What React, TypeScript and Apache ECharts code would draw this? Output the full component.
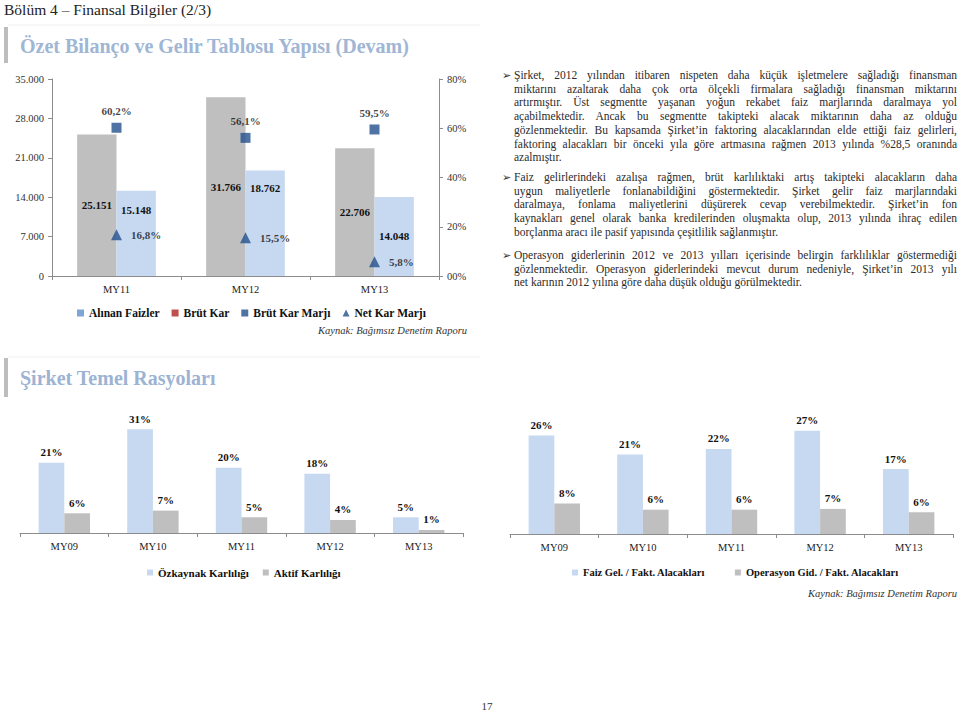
import React, { useEffect, useRef } from 'react';
import * as echarts from 'echarts';

// ---------- Data ----------
const years1 = ['MY11', 'MY12', 'MY13'];
const alinanFaizler = [25151, 31766, 22706];
const brutKar = [15148, 18762, 14048];
const brutKarMarji = [60.2, 56.1, 59.5];
const netKarMarji = [16.8, 15.5, 5.8];

const years2 = ['MY09', 'MY10', 'MY11', 'MY12', 'MY13'];
const ozkaynakKarliligi = [21.0, 31.0, 19.5, 17.7, 4.7];
const aktifKarliligi = [5.9, 6.7, 4.7, 3.9, 0.9];
const faizGelFakt = [25.9, 20.9, 22.4, 27.2, 17.1];
const operasyonGidFakt = [8.0, 6.4, 6.4, 6.6, 5.7];

const para1 = [
  'Şirket, 2012 yılından itibaren nispeten daha küçük işletmelere sağladığı finansman',
  'miktarını azaltarak daha çok orta ölçekli firmalara sağladığı finansman miktarını',
  'artırmıştır. Üst segmentte yaşanan yoğun rekabet faiz marjlarında daralmaya yol',
  'açabilmektedir. Ancak bu segmentte takipteki alacak miktarının daha az olduğu',
  'gözlenmektedir. Bu kapsamda Şirket’in faktoring alacaklarından elde ettiği faiz gelirleri,',
  'faktoring alacakları bir önceki yıla göre artmasına rağmen 2013 yılında %28,5 oranında',
  'azalmıştır.',
];
const para2 = [
  'Faiz gelirlerindeki azalışa rağmen, brüt karlılıktaki artış takipteki alacakların daha',
  'uygun maliyetlerle fonlanabildiğini göstermektedir. Şirket gelir faiz marjlarındaki',
  'daralmaya, fonlama maliyetlerini düşürerek cevap verebilmektedir. Şirket’in fon',
  'kaynakları genel olarak banka kredilerinden oluşmakta olup, 2013 yılında ihraç edilen',
  'borçlanma aracı ile pasif yapısında çeşitlilik sağlanmıştır.',
];
const para3 = [
  'Operasyon giderlerinin 2012 ve 2013 yılları içerisinde belirgin farklılıklar göstermediği',
  'gözlenmektedir. Operasyon giderlerindeki mevcut durum nedeniyle, Şirket’in 2013 yılı',
  'net karının 2012 yılına göre daha düşük olduğu görülmektedir.',
];
const paragraphs = [para1, para2, para3];

// ---------- Styling helpers ----------
const serif = '"Liberation Serif", "Times New Roman", serif';
const GRAY = '#bfbfbf';
const LBLUE = '#c6d9f1';
const DBLUE = '#23508e';
const AXIS = '#8c8c8c';
const paraTops = [69, 171, 249];
const brutKarLabelDy = [-23, -35, 0];

const fmtThousands = (v: number) => String(v).replace(/\B(?=(\d{3})+(?!\d))/g, '.');
const fmtPct1 = (v: number) => String(v).replace('.', ',') + '%';
const fmtPct0 = (v: number) => Math.round(v) + '%';

const boldLabel = { fontFamily: serif, fontWeight: 'bold' as const, fontSize: 11, color: '#111' };

function catAxis(gridIndex: number, data: string[]) {
  return {
    gridIndex,
    type: 'category',
    data,
    axisLine: { show: true, lineStyle: { color: AXIS } },
    axisTick: { show: true, length: 4, lineStyle: { color: AXIS } },
    axisLabel: { fontFamily: serif, fontSize: 10.5, color: '#222', margin: 8 },
  };
}

function smallBar(name: string, data: number[], color: string, xAxisIndex: number, yAxisIndex: number) {
  return {
    name,
    type: 'bar',
    xAxisIndex,
    yAxisIndex,
    data,
    barGap: '0%',
    barCategoryGap: '42%',
    itemStyle: { color },
    label: { show: true, position: 'top', distance: 5, formatter: (p: any) => fmtPct0(p.value), ...boldLabel },
  };
}

function buildOption() {
  return {
    animation: false,
    textStyle: { fontFamily: serif },
    grid: [
      { left: 52, top: 79, width: 387, height: 197 },
      { left: 20, top: 416, width: 443, height: 117 },
      { left: 510, top: 420, width: 443, height: 114 },
    ],
    xAxis: [catAxis(0, years1), catAxis(1, years2), catAxis(2, years2)],
    yAxis: [
      {
        gridIndex: 0, type: 'value', min: 0, max: 35000, interval: 7000, position: 'left',
        axisLine: { show: true, lineStyle: { color: AXIS } },
        axisTick: { show: true, length: 4, lineStyle: { color: AXIS } },
        splitLine: { show: false },
        axisLabel: { formatter: fmtThousands, fontFamily: serif, fontSize: 10.5, color: '#333', margin: 8 },
      },
      {
        gridIndex: 0, type: 'value', min: 0, max: 80, interval: 20, position: 'right',
        axisLine: { show: true, lineStyle: { color: AXIS } },
        axisTick: { show: true, length: 4, lineStyle: { color: AXIS } },
        splitLine: { show: false },
        axisLabel: { formatter: (v: number) => (v === 0 ? '00%' : v + '%'), fontFamily: serif, fontSize: 10.5, color: '#333', margin: 8 },
      },
      { gridIndex: 1, type: 'value', min: 0, max: 35, show: false },
      { gridIndex: 2, type: 'value', min: 0, max: 30, show: false },
    ],
    legend: [
      {
        left: 72, top: 302, itemWidth: 7, itemHeight: 7, itemGap: 12,
        textStyle: { fontFamily: serif, fontWeight: 'bold', fontSize: 11.5, color: '#111' },
        data: [
          { name: 'Alınan Faizler', icon: 'rect', itemStyle: { color: '#7fa4d6' } },
          { name: 'Brüt Kar', icon: 'rect', itemStyle: { color: '#c0504d' } },
          { name: 'Brüt Kar Marjı', icon: 'rect', itemStyle: { color: DBLUE } },
          { name: 'Net Kar Marjı', icon: 'triangle', itemStyle: { color: DBLUE } },
        ],
      },
      {
        left: 142, top: 562, itemWidth: 6, itemHeight: 6, itemGap: 14,
        textStyle: { fontFamily: serif, fontWeight: 'bold', fontSize: 11, color: '#111' },
        data: [
          { name: 'Özkaynak Karlılığı', icon: 'rect' },
          { name: 'Aktif Karlılığı', icon: 'rect' },
        ],
      },
      {
        left: 567, top: 562, itemWidth: 6, itemHeight: 6, itemGap: 30,
        textStyle: { fontFamily: serif, fontWeight: 'bold', fontSize: 10.5, color: '#111' },
        data: [
          { name: 'Faiz Gel. / Fakt. Alacakları', icon: 'rect' },
          { name: 'Operasyon Gid. / Fakt. Alacakları', icon: 'rect' },
        ],
      },
    ],
    series: [
      {
        name: 'Alınan Faizler', type: 'bar', xAxisIndex: 0, yAxisIndex: 0,
        data: alinanFaizler, barGap: '0%', barCategoryGap: '39%',
        itemStyle: { color: GRAY },
        label: { show: true, position: 'inside', formatter: (p: any) => fmtThousands(p.value), ...boldLabel },
      },
      {
        name: 'Brüt Kar', type: 'bar', xAxisIndex: 0, yAxisIndex: 0,
        data: brutKar.map((v, i) => ({ value: v, label: { offset: [0, brutKarLabelDy[i]] } })),
        barGap: '0%', barCategoryGap: '39%',
        itemStyle: { color: LBLUE },
        label: { show: true, position: 'inside', formatter: (p: any) => fmtThousands(p.value), ...boldLabel },
      },
      {
        name: 'Brüt Kar Marjı', type: 'scatter', xAxisIndex: 0, yAxisIndex: 1,
        data: brutKarMarji, symbol: 'rect', symbolSize: 10,
        itemStyle: { color: DBLUE }, z: 5,
        label: { show: true, position: 'top', distance: 6, formatter: (p: any) => fmtPct1(p.value), ...boldLabel },
      },
      {
        name: 'Net Kar Marjı', type: 'scatter', xAxisIndex: 0, yAxisIndex: 1,
        data: netKarMarji, symbol: 'triangle', symbolSize: 11,
        itemStyle: { color: DBLUE }, z: 5,
        label: { show: true, position: 'right', distance: 9, formatter: (p: any) => fmtPct1(p.value), ...boldLabel },
      },
      smallBar('Özkaynak Karlılığı', ozkaynakKarliligi, LBLUE, 1, 2),
      smallBar('Aktif Karlılığı', aktifKarliligi, GRAY, 1, 2),
      smallBar('Faiz Gel. / Fakt. Alacakları', faizGelFakt, LBLUE, 2, 3),
      smallBar('Operasyon Gid. / Fakt. Alacakları', operasyonGidFakt, GRAY, 2, 3),
    ],
    graphic: [
      { type: 'text', x: 4, y: 9, style: { text: 'Bölüm 4 – Finansal Bilgiler (2/3)', font: `15.5px ${serif}`, fill: '#222', align: 'left', verticalAlign: 'middle' } },
      { type: 'line', shape: { x1: 8, y1: 25, x2: 480, y2: 25 }, style: { stroke: '#efefef', lineWidth: 1 } },
      { type: 'rect', shape: { x: 4, y: 27, width: 4, height: 36 }, style: { fill: '#bdbdbd' } },
      { type: 'text', x: 20, y: 46, style: { text: 'Özet Bilanço ve Gelir Tablosu Yapısı (Devam)', font: `bold 20px ${serif}`, fill: '#9fb6d4', align: 'left', verticalAlign: 'middle' } },
      { type: 'text', x: 467, y: 330, style: { text: 'Kaynak: Bağımsız Denetim Raporu', font: `italic 10.5px ${serif}`, fill: '#333', align: 'right', verticalAlign: 'middle' } },
      { type: 'line', shape: { x1: 8, y1: 357, x2: 480, y2: 357 }, style: { stroke: '#efefef', lineWidth: 1 } },
      { type: 'rect', shape: { x: 4, y: 358, width: 4, height: 39 }, style: { fill: '#bdbdbd' } },
      { type: 'text', x: 20, y: 378, style: { text: 'Şirket Temel Rasyoları', font: `bold 20px ${serif}`, fill: '#9cb3d3', align: 'left', verticalAlign: 'middle' } },
      { type: 'text', x: 957, y: 593, style: { text: 'Kaynak: Bağımsız Denetim Raporu', font: `italic 10.5px ${serif}`, fill: '#333', align: 'right', verticalAlign: 'middle' } },
      { type: 'text', x: 487, y: 706, style: { text: '17', font: `11px ${serif}`, fill: '#333', align: 'center', verticalAlign: 'middle' } },
    ],
  };
}

export default function App() {
  const ref = useRef<HTMLDivElement>(null);
  useEffect(() => {
    if (!ref.current) return;
    const chart = echarts.init(ref.current, null, { renderer: 'svg' });
    chart.setOption(buildOption() as any);
    return () => chart.dispose();
  }, []);

  return (
    <div style={{ position: 'absolute', left: 0, top: 0, width: 959, height: 713, background: '#fff', overflow: 'hidden' }}>
      <div ref={ref} style={{ position: 'absolute', left: 0, top: 0, width: 959, height: 713 }} />
      {paragraphs.map((p, i) => (
        <div
          key={i}
          style={{
            position: 'absolute', left: 514, top: paraTops[i], width: 443,
            fontFamily: serif, fontSize: 11.5, lineHeight: '13.7px', color: '#2b2b2b',
          }}
        >
          <span style={{ position: 'absolute', left: -12, top: 0, fontSize: 11, fontFamily: '"DejaVu Sans", sans-serif' }}>➢</span>
          {p.map((line, j) => {
            const last = j === p.length - 1;
            return (
              <div
                key={j}
                style={{
                  whiteSpace: 'nowrap',
                  textAlign: last ? 'left' : 'justify',
                  textAlignLast: last ? 'left' : 'justify',
                } as React.CSSProperties}
              >
                {line}
              </div>
            );
          })}
        </div>
      ))}
    </div>
  );
}
